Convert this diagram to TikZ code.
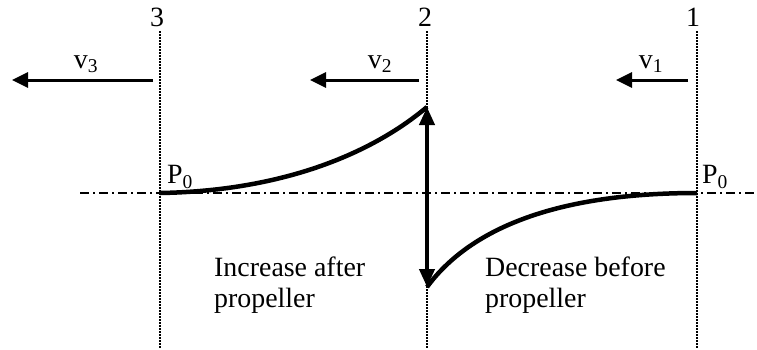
\documentclass[tikz,border=0pt]{standalone}
\usepackage{fontspec}
\setmainfont{Liberation Serif}
\usetikzlibrary{arrows.meta, positioning}

\tikzset{
  section/.style={line width=2.5bp, dash pattern=on 2bp off 1bp},
  axisline/.style={line width=1.8bp, dash pattern=on 9bp off 4bp on 2bp off 4bp},
  pressure/.style={line width=4.5bp},
  flow/.style={line width=3bp, -{Triangle[length=16bp, width=15bp]}},
  jump/.style={line width=4bp, {Triangle[length=18bp, width=15bp]}-{Triangle[length=18bp, width=15bp]}},
  lbl/.style={font=\fontsize{28}{31}\selectfont, inner sep=0pt},
  txt/.style={lbl, align=left, anchor=north west}
}

\begin{document}
\begin{tikzpicture}[x=1bp, y=-1bp]
        \useasboundingbox (0,0) rectangle (757,349);

        % Doorsneden 3, 2, 1
        \node[lbl] (n3) at (157,17) {3};
        \node[lbl] (n2) at (425,17) {2};
        \node[lbl] (n1) at (693,17) {1};
        \coordinate (t3) at (160,31);
        \coordinate (t2) at (427,31);
        \coordinate (t1) at (697,31);
        \coordinate (b3) at (160,349);
        \coordinate (b2) at (427,349);
        \coordinate (b1) at (697,349);
        \draw[section] (t3) -- (b3);
        \draw[section] (t2) -- (b2);
        \draw[section] (t1) -- (b1);

        % Referentielijn P0
        \coordinate (al) at (80,193);
        \coordinate (ar) at (757,193);
        \draw[axisline] (al) -- (ar);

        % Snelheden
        \coordinate (s3) at (153,80);
        \coordinate (e3) at (12,80);
        \coordinate (s2) at (419,80);
        \coordinate (e2) at (310,80);
        \coordinate (s1) at (688,80);
        \coordinate (e1) at (616,80);
        \draw[flow] (s3) -- (e3);
        \draw[flow] (s2) -- (e2);
        \draw[flow] (s1) -- (e1);
        \node[lbl] (v3) at (86,64) {v\textsubscript{3}};
        \node[lbl] (v2) at (380,64) {v\textsubscript{2}};
        \node[lbl] (v1) at (651,64) {v\textsubscript{1}};

        % Drukverloop
        \coordinate (p3) at (160,193);
        \coordinate (ptop) at (427,107);
        \coordinate (pbot) at (427,287);
        \coordinate (p1) at (697,193);
        \draw[pressure] (p3) .. controls (280,191) and (370,155) .. (ptop);
        \draw[pressure] (pbot) .. controls (475,222) and (570,193) .. (p1);
        \draw[jump] (ptop) -- (pbot);
        \node[lbl] (p0l) at (180,177) {P\textsubscript{0}};
        \node[lbl] (p0r) at (715,177) {P\textsubscript{0}};

        % Toelichting
        \node[txt] (inc) at (214,257) {Increase after\\propeller};
        \node[txt] (dec) at (485,257) {Decrease before\\propeller};

    \end{tikzpicture}
\end{document}
